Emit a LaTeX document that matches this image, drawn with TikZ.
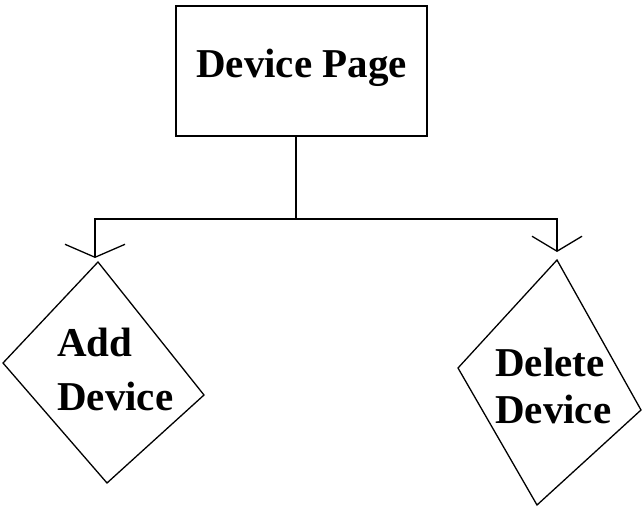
\documentclass[tikz,border=0pt]{standalone}
\usepackage{fontspec}
\setmainfont{Liberation Serif}
\usetikzlibrary{arrows.meta}
\tikzset{
  label text/.style={font=\fontsize{41}{49}\selectfont\bfseries, inner sep=0pt},
  boxline/.style={line width=2pt},
  wire/.style={line width=2pt},
  diamondline/.style={line width=1.3pt, line join=miter},
  openhead/.style={-{Straight Barb[length=#1, line width=1.3pt]}},
}
\begin{document}
\begin{tikzpicture}[x=1pt, y=-1pt]
  \useasboundingbox (0,0) rectangle (642,508);

  % top box
  \node[draw, boxline, minimum width=251pt, minimum height=130pt, inner sep=0pt] (page) at (301.5,71) {};
  \node[label text, anchor=base] (pagetext) at (301.5,78) {Device Page};

  % branching connector
  \coordinate (junction) at (296,219);
  \coordinate (addtip) at (95,258);
  \coordinate (deltip) at (557,252);
  \draw[wire] (page.south -| junction) -- (junction);
  \draw[wire, -{Straight Barb[length=13pt, width=60pt, line width=1.3pt]}] (junction) -| (addtip);
  \draw[wire, -{Straight Barb[length=15pt, width=50pt, line width=1.3pt]}] (junction) -| (deltip);

  % left diamond
  \coordinate (aT) at (98,262);
  \coordinate (aR) at (204,395);
  \coordinate (aB) at (107,483);
  \coordinate (aL) at (3,363);
  \draw[diamondline] (aT) -- (aR) -- (aB) -- (aL) -- cycle;
  \node[label text, anchor=base west] (addA) at (57,356) {Add};
  \node[label text, anchor=base west] (addB) at (57,410) {Device};

  % right diamond
  \coordinate (dT) at (557,260);
  \coordinate (dR) at (641,410);
  \coordinate (dB) at (537,505);
  \coordinate (dL) at (458,368);
  \draw[diamondline] (dT) -- (dR) -- (dB) -- (dL) -- cycle;
  \node[label text, anchor=base west] (delA) at (495,376) {Delete};
  \node[label text, anchor=base west] (delB) at (495,423) {Device};
\end{tikzpicture}
\end{document}
